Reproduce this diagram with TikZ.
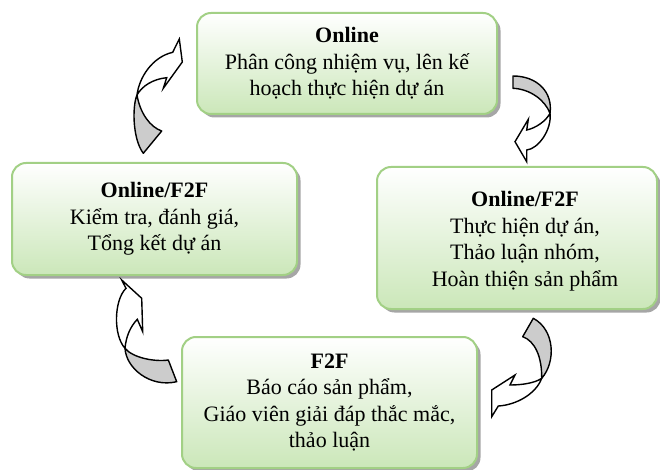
\documentclass[tikz,border=0pt]{standalone}
\usepackage{fontspec}
\setmainfont{Liberation Serif}
\usetikzlibrary{shadows}
\definecolor{boxborder}{RGB}{162,208,133}
\definecolor{boxfill}{RGB}{203,231,185}
\definecolor{arrowgray}{RGB}{204,204,204}
\tikzset{
  stagebox/.style={draw=boxborder, line width=2pt, rounded corners=14pt,
    top color=white, bottom color=boxfill,
    drop shadow={shadow xshift=3.5pt, shadow yshift=-3.5pt, fill=black, opacity=0.35},
    inner sep=0pt, outer sep=0pt},
  stagetext/.style={font=\fontsize{22}{26.5}\selectfont, align=center, inner sep=0pt},
  backband/.style={draw=black, line width=1.4pt, fill=arrowgray, line join=round},
  frontband/.style={draw=black, line width=1.4pt, fill=white, line join=miter},
}
\begin{document}
\begin{tikzpicture}[x=1pt,y=-1pt]
\useasboundingbox (0,0) rectangle (660,470);
% boxes
\node[stagebox, minimum width=300pt, minimum height=101pt] (topbox) at (347,63.5) {};
\node[stagetext] (toptext) at (topbox.center) {\textbf{Online}\\Phân công nhiệm vụ, lên kế\\hoạch thực hiện dự án};
\node[stagebox, minimum width=280pt, minimum height=142pt] (rightbox) at (517,238) {};
\node[stagetext] (righttext) at (525,241) {\textbf{Online/F2F}\\Thực hiện dự án,\\Thảo luận nhóm,\\Hoàn thiện sản phẩm};
\node[stagebox, minimum width=295pt, minimum height=131pt] (bottombox) at (329.5,402.5) {};
\node[stagetext] (bottomtext) at (bottombox.center) {\textbf{F2F}\\Báo cáo sản phẩm,\\Giáo viên giải đáp thắc mắc,\\thảo luận};
\node[stagebox, minimum width=285pt, minimum height=112pt] (leftbox) at (154.5,219) {};
\node[stagetext] (lefttext) at (leftbox.center) {\textbf{Online/F2F}\\Kiểm tra, đánh giá,\\Tổng kết dự án};
% arrow 1: left box -> top box
\draw[backband] (137,95) .. controls (132.5,105) and (132,138) .. (143.3,153.3) -- (161.7,131) .. controls (150,127) and (140,113) .. cycle;
\draw[frontband] (137,95) .. controls (139,78) and (152,57) .. (172.7,52.3) -- (179.3,39) -- (182.3,62) -- (163.3,88.3) -- (166.7,77.7) .. controls (153,79) and (142,86) .. cycle;
% arrow 2: top box -> right box
\draw[backband] (550,113.3) .. controls (553,92) and (537,76) .. (513,76) -- (513,88.3) .. controls (530,89) and (545,100) .. cycle;
\draw[frontband] (550,113.3) .. controls (552,130) and (538,149) .. (526.7,150) -- (526.7,161.7) -- (515,141.7) -- (528.3,119.3) -- (526.7,130) .. controls (536,128) and (546,121) .. cycle;
% arrow 3: right box -> bottom box
\draw[backband] (541.7,378.3) .. controls (556,362) and (555,330) .. (533.3,318.3) -- (522.7,336.7) .. controls (535,341) and (542,357) .. cycle;
\draw[frontband] (541.7,378.3) .. controls (536,394) and (516,405) .. (498.3,406) -- (491.7,416.7) -- (491.7,390) -- (515,375) -- (510,385) .. controls (522,385) and (535,383) .. cycle;
% arrow 4: bottom box -> left box
\draw[backband] (125,348.3) .. controls (126,368) and (150,388) .. (176.7,381.7) -- (168.3,360) .. controls (155,362) and (133,358) .. cycle;
\draw[frontband] (125,348.3) .. controls (113,335) and (114,300) .. (126,288.3) -- (121.7,280) -- (141.7,298.3) -- (142.7,331.7) -- (137.3,319.3) .. controls (130,327) and (126,337) .. cycle;
\end{tikzpicture}
\end{document}
